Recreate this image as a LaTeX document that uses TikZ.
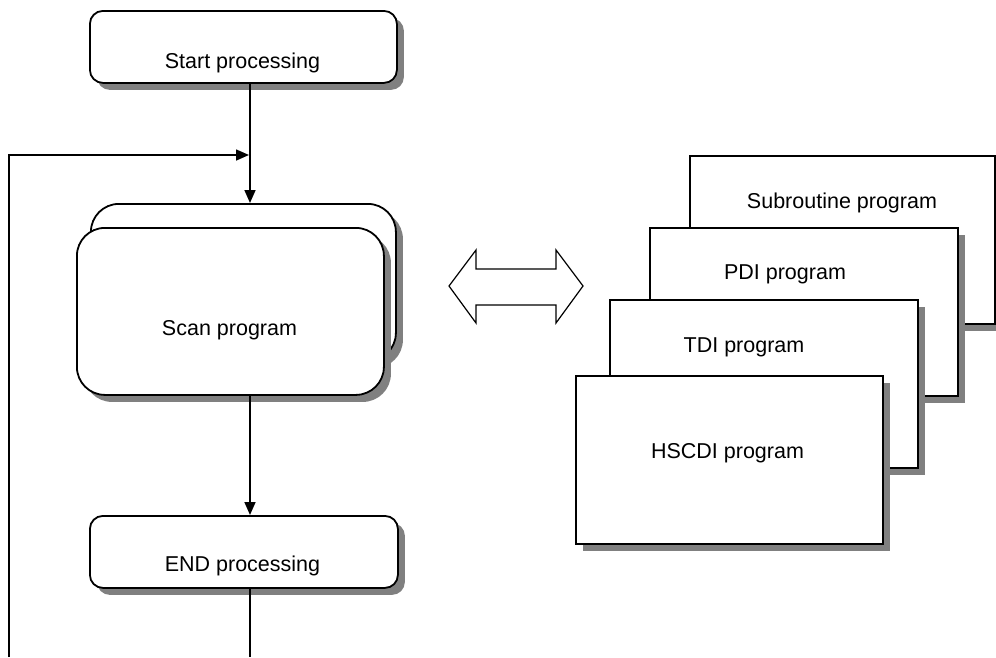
\documentclass[tikz,border=0pt]{standalone}
\usepackage{fontspec}
\setmainfont{Liberation Sans}
\usetikzlibrary{arrows.meta,shadows}

\tikzset{
  flowbox/.style={draw, fill=white, line width=1.8pt, anchor=north west, inner sep=0pt,
    drop shadow={shadow xshift=7pt, shadow yshift=-7pt, fill=gray, opacity=1}},
  progbox/.style={flowbox, minimum width=307pt, minimum height=168pt},
  lbl/.style={font=\fontsize{21.5pt}{26pt}\selectfont, anchor=base, inner sep=0pt},
  flowline/.style={line width=1.6pt}
}

\begin{document}
\begin{tikzpicture}[x=1pt, y=-1pt, >={Triangle[length=13pt,width=11pt]}]
    \useasboundingbox (0,0) rectangle (996,657);

    % --- Main flow ---
    \node[flowbox, rounded corners=13pt, minimum width=307pt, minimum height=72pt] (start) at (89,10) {};
    \node[lbl] (startText) at (242.5,68) {Start processing};

    \node[flowbox, rounded corners=28pt, minimum width=305pt, minimum height=157pt] (scanBack) at (90,203) {};
    \node[flowbox, rounded corners=28pt, minimum width=307pt, minimum height=167pt] (scanFront) at (76,227) {};
    \node[lbl] (scanText) at (229.5,335) {Scan program};

    \node[flowbox, rounded corners=13pt, minimum width=308pt, minimum height=72pt] (finish) at (89,515) {};
    \node[lbl] (finishText) at (242.5,571) {END processing};

    % --- Connectors ---
    \coordinate (mainX) at (250,0);
    \coordinate (mainBottom) at (250,657);
    \draw[flowline, ->] (start.south -| mainX) -- (scanBack.north -| mainX);
    \draw[flowline, ->] (scanFront.south -| mainX) -- (finish.north -| mainX);
    \draw[flowline] (finish.south -| mainX) -- (mainBottom);

    % loop back to the top
    \coordinate (loopBottom) at (9,657);
    \coordinate (loopTop) at (9,155);
    \coordinate (loopEnd) at (249,155);
    \draw[flowline, ->] (loopBottom) -- (loopTop) -- (loopEnd);

    % --- Double arrow ---
    \draw[line width=1.2pt, fill=white] (449,286) -- (476,250) -- (476,269) -- (556,269) -- (556,250)
        -- (583,286) -- (556,323) -- (556,305) -- (476,305) -- (476,323) -- cycle;

    % --- Program stack ---
    \node[progbox, minimum width=305pt] (subProg) at (689,155) {};
    \node[lbl] (subText) at (842,208) {Subroutine program};
    \node[progbox, minimum width=308pt] (pdiProg) at (649,227) {};
    \node[lbl] (pdiText) at (785,279) {PDI program};
    \node[progbox, minimum width=308pt] (tdiProg) at (609,299) {};
    \node[lbl] (tdiText) at (744,352) {TDI program};
    \node[progbox] (hscdiProg) at (575,375) {};
    \node[lbl] (hscdiText) at (727.5,458) {HSCDI program};
\end{tikzpicture}
\end{document}
